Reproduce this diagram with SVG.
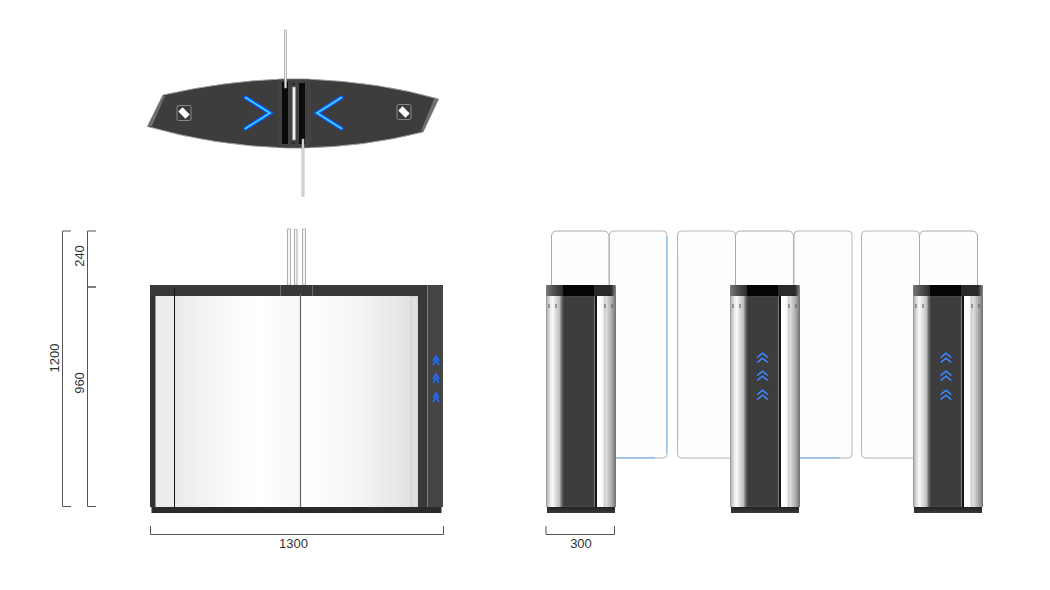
<svg xmlns="http://www.w3.org/2000/svg" xmlns:xlink="http://www.w3.org/1999/xlink" width="1050" height="590" viewBox="0 0 1050 590">
<style>
.dim{fill:none;stroke:#555;stroke-width:1}
.lbl{font-family:"Liberation Sans",Arial,sans-serif;font-size:13px;fill:#333;text-anchor:middle}
.glass{fill:#fefefe;stroke:#a8a8a8;stroke-width:1}
.glassb{fill:#fdfdfe;stroke:#b8b8b8;stroke-width:1}
.blue{fill:none;stroke:#7db8ee;stroke-width:1.2}
.rod{fill:#f4f4f4;stroke:#9a9a9a;stroke-width:1}
.chevOut{fill:none;stroke:#0f55ff;stroke-width:4.2;stroke-linecap:round}
.chevIn{fill:none;stroke:#3fd8ff;stroke-width:1.6;stroke-linecap:round}
.sm{fill:none;stroke:#1f6dff;stroke-width:1.6}
.smc{fill:none;stroke:#7fc4ff;stroke-width:.6}
</style>
<defs>
<linearGradient id="g1" x1="0" x2="1" y1="0" y2="0"><stop offset="0" stop-color="#e9e9e9"/><stop offset=".45" stop-color="#fbfbfb"/><stop offset=".7" stop-color="#ffffff"/><stop offset="1" stop-color="#f6f6f6"/></linearGradient>
<linearGradient id="g2" x1="0" x2="1" y1="0" y2="0"><stop offset="0" stop-color="#ffffff"/><stop offset=".5" stop-color="#f6f6f6"/><stop offset="1" stop-color="#e2e2e2"/></linearGradient>
<linearGradient id="mL" x1="0" x2="1" y1="0" y2="0"><stop offset="0" stop-color="#8a8a8a"/><stop offset=".1" stop-color="#c4c4c4"/><stop offset=".36" stop-color="#fbfbfb"/><stop offset=".55" stop-color="#e2e2e2"/><stop offset=".8" stop-color="#bdbdbd"/><stop offset=".92" stop-color="#6a6a6a"/><stop offset="1" stop-color="#5a5a5a"/></linearGradient>
<linearGradient id="mR" x1="0" x2="1" y1="0" y2="0"><stop offset="0" stop-color="#ffffff"/><stop offset=".3" stop-color="#fbfbfb"/><stop offset=".38" stop-color="#cfcfcf"/><stop offset=".5" stop-color="#dcdcdc"/><stop offset=".8" stop-color="#a4a4a4"/><stop offset="1" stop-color="#707070"/></linearGradient>
<linearGradient id="cap" x1="0" x2="1" y1="0" y2="0"><stop offset="0" stop-color="#777"/><stop offset=".1" stop-color="#555"/><stop offset=".24" stop-color="#2d2d2d"/><stop offset=".245" stop-color="#050505"/><stop offset=".68" stop-color="#050505"/><stop offset=".69" stop-color="#2a2a2a"/><stop offset=".93" stop-color="#2a2a2a"/><stop offset="1" stop-color="#888"/></linearGradient>
<linearGradient id="footG" x1="0" x2="0" y1="0" y2="1"><stop offset="0" stop-color="#222"/><stop offset="1" stop-color="#3a3a3a"/></linearGradient>
<filter id="glow" x="-30%" y="-30%" width="160%" height="160%"><feGaussianBlur stdDeviation=".7"/></filter>
<g id="dbl"><path class="sm" d="M-5.500 -1.500 L0 -6 L5.500 -1.500"/><path class="sm" d="M-5.500 3.500 L0 -1 L5.500 3.500"/><path class="smc" d="M-5 -1.500 L0 -5.500 L5 -1.500"/><path class="smc" d="M-5 3.500 L0 -.5 L5 3.500"/></g>
<g id="post">
<rect x="0" y="11" width="17" height="211" fill="url(#mL)"/>
<rect x="51" y="11" width="19" height="211" fill="url(#mR)"/>
<rect x="17" y="11" width="31" height="211" fill="#3d3d3d" stroke="#5a5a5a" stroke-width=".6"/>
<rect x="48.500" y="11" width="2.500" height="211" fill="#161616"/>
<rect x="0" y="0" width="70" height="11" rx="1" fill="url(#cap)"/>
<rect x="1" y="222" width="68" height="6" fill="url(#footG)"/>
<path d="M3 19v4M10 19v4M59 19v4M66 19v4" stroke="#555" stroke-width="1" fill="none"/>
</g>
<g id="card"><rect x="-7" y="-7.500" width="14" height="15" rx="1.500" fill="#3c3c3c" stroke="#9b9b9b" stroke-width=".8"/><rect x="-5" y="-3" width="10" height="6" fill="#fff" transform="rotate(45)"/></g>
</defs>

<g id="connectors">
<path class="dim" d="M71 231H62.500V506.500H71"/>
<path class="dim" d="M96 231H87.500V287H96"/>
<path class="dim" d="M96 287H87.500V506.500H96"/>
<path class="dim" d="M150.500 526V534.500H443.500V526"/>
<path class="dim" d="M546 526V534.500H614.500V526"/>
</g>

<g id="top-view">
<path d="M147.500 126.500 L163 95 Q225 81 283 79 L306 79 Q380 82 438.500 99 L423 132 Q365 147 300 148 L288 148 Q215 146 147.500 126.500Z" fill="#3d3d3d" stroke="#a0a0a0" stroke-width="1"/>
<path d="M147.500 126.500 L163 95 L165 96 L152 126Z" fill="#6f6f6f"/>
<path d="M438.500 99 L423 132 L421 131 L434 99Z" fill="#6f6f6f"/>
<rect x="278" y="79.500" width="33" height="68" fill="#424242"/>
<rect x="282" y="82" width="6" height="62" fill="#0b0b0b"/>
<rect x="299" y="83" width="6" height="61" fill="#0b0b0b"/>
<rect x="292.500" y="87" width="3" height="53" fill="#f2f2f2" stroke="#888" stroke-width=".5"/>
<path d="M292 84h3M292 143h3" stroke="#111" stroke-width="1"/>
<rect x="284.500" y="30" width="2" height="58" fill="#e8e8e8" stroke="#999" stroke-width=".6"/>
<rect x="302" y="139" width="2" height="57" fill="#e8e8e8" stroke="#999" stroke-width=".6"/>
<g filter="url(#glow)"><path class="chevOut" d="M245.500 97.500 L270 113 L245.500 128.500"/><path class="chevOut" d="M341.500 97.500 L317 113 L341.500 128.500"/></g>
<path class="chevIn" d="M245.500 97.500 L270 113 L245.500 128.500"/>
<path class="chevIn" d="M341.500 97.500 L317 113 L341.500 128.500"/>
<use xlink:href="#card" href="#card" x="184" y="113"/>
<use xlink:href="#card" href="#card" x="404" y="112"/>
</g>

<g id="front-view">
<path d="M287.500 229h3v56h-3zM294.500 229.500h2.500v55.500h-2.500zM302.500 229h3v56h-3z" fill="#f6f6f6" stroke="#9a9a9a" stroke-width=".8"/>
<rect x="155.500" y="296" width="19" height="211" fill="#ededed"/>
<rect x="174" y="296" width="127" height="211" fill="url(#g1)"/>
<rect x="301" y="296" width="110" height="211" fill="url(#g2)"/>
<rect x="411" y="296" width="7" height="211" fill="#e0e0e0" stroke="#bbb" stroke-width=".6"/>
<rect x="150" y="285" width="277" height="11" fill="#383838"/>
<rect x="150" y="296" width="5.500" height="211" fill="#333"/>
<rect x="418" y="296" width="9" height="211" fill="#393939"/>
<rect x="427" y="285" width="16" height="222" fill="#444"/>
<path d="M427.500 285V507" stroke="#8a8a8a" stroke-width=".8"/>
<rect x="151.500" y="507" width="290" height="6" fill="#2a2a2a"/>
<path d="M280.500 285v11M312.500 285v11" stroke="#777" stroke-width=".8"/>
<path d="M174.500 288V507" stroke="#151515" stroke-width="1"/>
<path d="M300.500 294V507" stroke="#666" stroke-width="1.200"/>
<path d="M433 361l3-5l3 5M433 365l3-5l3 5M433 379l3-5l3 5M433 383l3-5l3 5M433 398l3-5l3 5M433 402l3-5l3 5" class="sm" stroke-width="1.500"/>
</g>

<g id="glass-panels">
<rect class="glass" x="551.500" y="231" width="57.500" height="70" rx="5"/>
<rect class="glassb" x="609.500" y="231" width="57.500" height="227" rx="4"/>
<rect class="glassb" x="677.500" y="231" width="58" height="227" rx="4"/>
<rect class="glass" x="735.500" y="231" width="58" height="70" rx="5"/>
<rect class="glassb" x="794" y="231" width="58" height="227" rx="4"/>
<rect class="glassb" x="861.500" y="231" width="58" height="227" rx="4"/>
<rect class="glass" x="919.500" y="231" width="58" height="70" rx="5"/>
<path class="blue" d="M666.800 236V453" opacity=".8"/>
<path class="blue" d="M616 457.800H655"/>
<path class="blue" d="M677.700 250V440" opacity=".5"/>
<path class="blue" d="M800 457.800H840"/>
<path class="blue" d="M861.700 250V440" opacity=".4"/>
</g>

<g id="post-1"><use xlink:href="#post" href="#post" x="546" y="285"/></g>
<g id="post-2"><use xlink:href="#post" href="#post" x="730" y="285"/>
<use xlink:href="#dbl" href="#dbl" x="762.500" y="359"/><use xlink:href="#dbl" href="#dbl" x="762.500" y="377"/><use xlink:href="#dbl" href="#dbl" x="762.500" y="396"/></g>
<g id="post-3"><use xlink:href="#post" href="#post" x="913" y="285"/>
<use xlink:href="#dbl" href="#dbl" x="946" y="359"/><use xlink:href="#dbl" href="#dbl" x="946" y="377"/><use xlink:href="#dbl" href="#dbl" x="946" y="396"/></g>

<g id="labels">
<text class="lbl" x="293.500" y="548">1300</text>
<text class="lbl" x="581" y="548">300</text>
<text class="lbl" transform="translate(59 358) rotate(-90)">1200</text>
<text class="lbl" transform="translate(84 256) rotate(-90)">240</text>
<text class="lbl" transform="translate(84 383) rotate(-90)">960</text>
</g>
</svg>
